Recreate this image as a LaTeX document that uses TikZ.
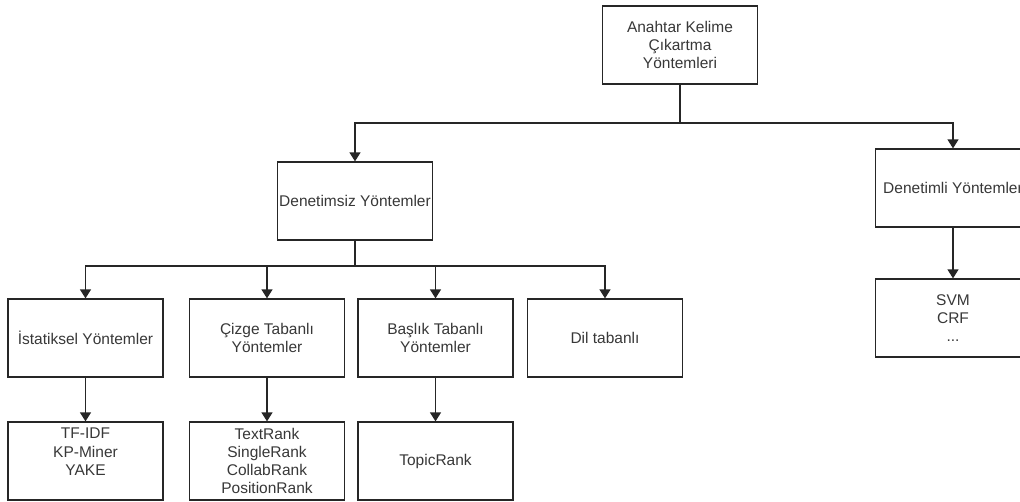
\documentclass[tikz,border=0pt]{standalone}
\usepackage{fontspec}
\setmainfont{Liberation Sans}
\usetikzlibrary{arrows.meta}
\tikzset{
  box/.style={draw=black!85, line width=1.3pt, rectangle, minimum width=155pt,
    minimum height=78pt, inner sep=0pt, align=center, text=black!78,
    font=\fontsize{15.5}{18.3}\selectfont},
  link/.style={draw=black!85, line width=1.3pt,
    -{Triangle[width=11pt,length=9pt]}},
  trunk/.style={draw=black!85, line width=1.3pt}
}
\begin{document}
\begin{tikzpicture}[x=1pt,y=-1pt]
  \clip (0,0) rectangle (1020,501);
  \fill[white] (0,0) rectangle (1020,501);

  % root
  \node[box] (root) at (680,45) {Anahtar Kelime\\Çıkartma\\Yöntemleri};

  % second level
  \node[box] (uns) at (355,201) {Denetimsiz Yöntemler};
  \node[box] (sup) at (953,188) {Denetimli Yöntemler};
  \node[box] (supex) at (953,318) {SVM\\CRF\\...};

  % unsupervised families
  \node[box] (ist) at (85.5,338) {İstatiksel Yöntemler};
  \node[box] (ciz) at (267,338) {Çizge Tabanlı\\Yöntemler};
  \node[box] (bas) at (435.5,338) {Başlık Tabanlı\\Yöntemler};
  \node[box] (dil) at (605,338) {Dil tabanlı};

  % examples (the first list keeps an empty fourth line)
  \node[box] (istex) at (85.5,461) {TF-IDF\\KP-Miner\\YAKE\\\phantom{PositionRank}};
  \node[box] (cizex) at (267,461) {TextRank\\SingleRank\\CollabRank\\PositionRank};
  \node[box] (basex) at (435.5,461) {TopicRank};

  % junctions
  \coordinate (j1) at (680,123);
  \coordinate (j2) at (355,266);

  % connectors
  \draw[trunk] (root.south) -- (j1);
  \draw[link] (j1) -| (uns.north);
  \draw[link] (j1) -| (sup.north);
  \draw[link] (sup.south) -- (supex.north);

  \draw[trunk] (uns.south) -- (j2);
  \draw[link] (j2) -| (ist.north);
  \draw[link] (j2) -| (ciz.north);
  \draw[link] (j2) -| (bas.north);
  \draw[link] (j2) -| (dil.north);

  \draw[link] (ist.south) -- (istex.north);
  \draw[link] (ciz.south) -- (cizex.north);
  \draw[link] (bas.south) -- (basex.north);
\end{tikzpicture}
\end{document}
